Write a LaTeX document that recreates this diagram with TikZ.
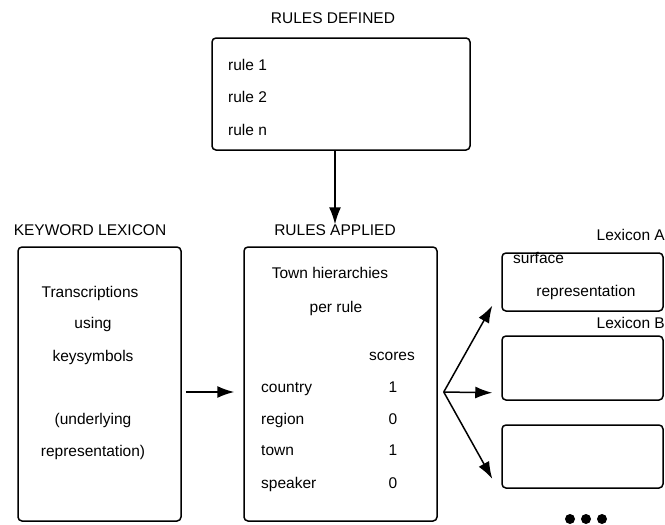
\documentclass[tikz,border=0pt]{standalone}
\usepackage{fontspec}
\setmainfont{Liberation Sans}
\usetikzlibrary{arrows.meta,calc}

\begin{document}
\begin{tikzpicture}
    [x=1pt, y=-1pt,
    font=\fontsize{15.5}{18}\selectfont,
    box/.style={draw, line width=1.5pt, rounded corners=4pt, inner sep=0pt},
    txt/.style={inner sep=0pt, text height=11pt, text depth=0pt},
    arrow/.style={-{Latex[length=17pt,width=12pt]}, line width=1.5pt}]

    \useasboundingbox (0, 0) rectangle (665, 525);

    % drawing the boxes
    \node[box, minimum width=258pt, minimum height=112pt] (defined) at (341, 94) {};
    \node[box, minimum width=163pt, minimum height=274pt] (keyword) at (99.5, 384) {};
    \node[box, minimum width=193pt, minimum height=274pt] (applied) at (340.5, 384) {};
    \node[box, minimum width=161pt, minimum height=58pt] (lexA) at (582.5, 282) {};
    \node[box, minimum width=161pt, minimum height=64pt] (lexB) at (582.5, 368) {};
    \node[box, minimum width=161pt, minimum height=63pt] (lexC) at (582.5, 456.5) {};

    % drawing the titles
    \node[txt] (definedtitle) at (333, 18) {RULES DEFINED};
    \node[txt] (keywordtitle) at (90, 230) {KEYWORD LEXICON};
    \node[txt] (appliedtitle) at (335, 230) {RULES APPLIED};
    \node[txt, anchor=east] (lexAtitle) at (665, 235) {Lexicon A};
    \node[txt, anchor=east] (lexBtitle) at (665, 323) {Lexicon B};

    % drawing the rules
    \node[txt, anchor=west] (rule1) at (228, 65) {rule 1};
    \node[txt, anchor=west] (rule2) at (228, 97) {rule 2};
    \node[txt, anchor=west] (rulen) at (228, 130) {rule n};

    % drawing the keyword lexicon text
    \node[txt] (trans) at (90, 292) {Transcriptions};
    \node[txt] (using) at (93, 323) {using};
    \node[txt] (keysym) at (93, 356) {keysymbols};
    \node[txt] (underl) at (93, 419) {(underlying};
    \node[txt] (repr) at (93, 451) {representation)};

    % drawing the town hierarchies
    \node[txt] (town) at (330, 273) {Town hierarchies};
    \node[txt] (perrule) at (336, 307) {per rule};
    \node[txt] (scores) at (392, 355) {scores};
    \node[txt, anchor=west] (country) at (261, 387) {country};
    \node[txt, anchor=west] (region) at (261, 419) {region};
    \node[txt, anchor=west] (towns) at (261, 450) {town};
    \node[txt, anchor=west] (speaker) at (261, 483) {speaker};
    \node[txt] (s1) at (393, 387) {1};
    \node[txt] (s2) at (393, 419) {0};
    \node[txt] (s3) at (393, 450) {1};
    \node[txt] (s4) at (393, 483) {0};

    % drawing the lexicon A text
    \node[txt, anchor=west] (surface) at (513, 258) {surface};
    \node[txt] (surfrepr) at (586, 291) {representation};

    % drawing the arrows
    \draw[arrow] (defined.south -| appliedtitle) -- (appliedtitle.north);
    \draw[arrow] ($(keyword.east)+(4,8)$) -- ($(applied.west)+(-9,8)$);

    \coordinate (fork) at ($(applied.east)+(6,8)$);
    \draw[arrow] (fork) -- ($(lexA.south west)+(-9,-6)$);
    \draw[arrow] (fork) -- ($(lexB.south west)+(-9,-8)$);
    \draw[arrow] (fork) -- ($(lexC.south west)+(-9,-10)$);

    % drawing the dots
    \foreach \x in {570, 586, 602}
        \fill (\x, 519) circle (5pt);

\end{tikzpicture}
\end{document}
